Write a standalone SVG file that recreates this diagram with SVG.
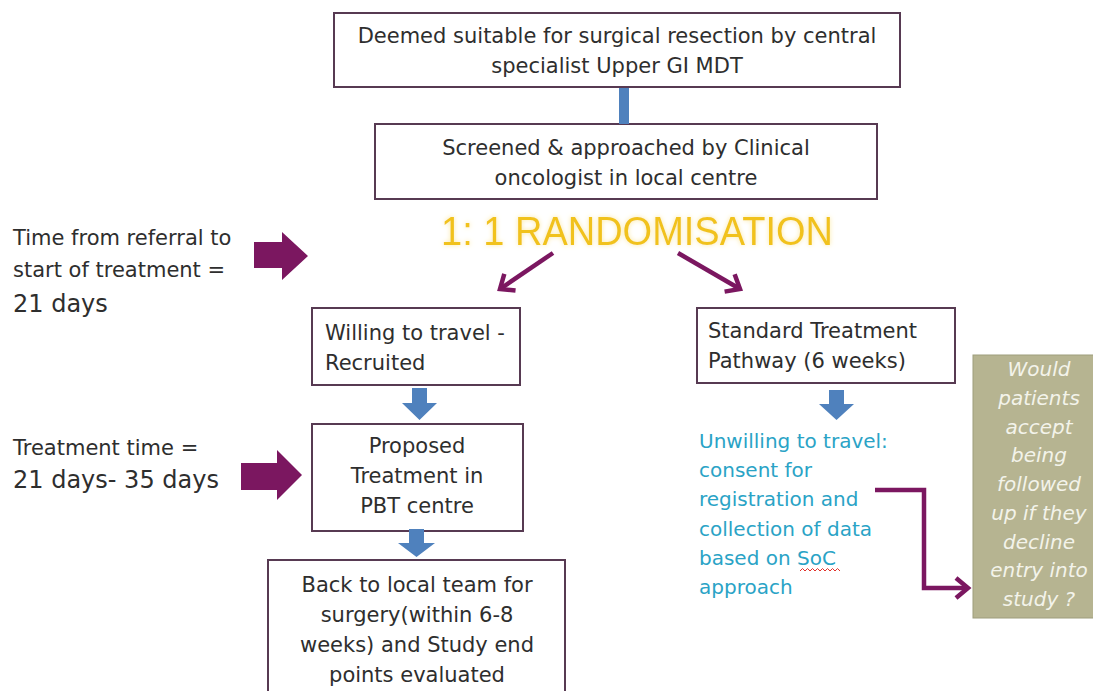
<svg xmlns="http://www.w3.org/2000/svg" width="1093" height="691" viewBox="0 0 1093 691">
  <style>
    .box { fill: #ffffff; stroke: #573a52; stroke-width: 2; }
    .t { font-family: "DejaVu Sans", "Liberation Sans", sans-serif; font-size: 21px; fill: #2e2e2e; }
    .big { font-size: 24px; }
    .mid { text-anchor: middle; }
    .cyan { font-family: "DejaVu Sans", "Liberation Sans", sans-serif; font-size: 20px; fill: #2aa3c6; }
    .tan { fill: #b6b491; stroke: #9e9d7c; stroke-width: 1; }
    .tantext { font-family: "DejaVu Sans", "Liberation Sans", sans-serif; font-size: 20px; font-style: italic; fill: #f3f3ea; text-anchor: middle; }
    .rand { font-family: "Liberation Sans", "DejaVu Sans", sans-serif; font-size: 40px; fill: #f1c21b; }
    .blue { fill: #4f81bd; }
    .purp { fill: #7b1760; }
    .pline { fill: none; stroke: #7b1760; stroke-width: 4.5; stroke-linejoin: miter; }
  </style>
  <defs>
    <filter id="glow" x="-10%" y="-30%" width="120%" height="160%">
      <feGaussianBlur in="SourceAlpha" stdDeviation="2.5" result="b"/>
      <feFlood flood-color="#fbe9a0" result="c"/>
      <feComposite in="c" in2="b" operator="in" result="g"/>
      <feMerge><feMergeNode in="g"/><feMergeNode in="SourceGraphic"/></feMerge>
    </filter>
    <marker id="vhead" markerUnits="userSpaceOnUse" markerWidth="30" markerHeight="30" refX="16" refY="12" orient="auto">
      <path d="M4,2 L16,12 L4,22" fill="none" stroke="#7b1760" stroke-width="4.5"/>
    </marker>
  </defs>
  <rect width="1093" height="691" fill="#ffffff"/>

  <!-- side notes -->
  <g id="note-referral">
    <text class="t" x="13" y="245">Time from referral to</text>
    <text class="t" x="13" y="277">start of treatment =</text>
    <text class="t big" x="13" y="312">21 days</text>
  </g>
  <g id="note-treatment">
    <text class="t" x="13" y="455">Treatment time =</text>
    <text class="t big" x="13" y="488">21 days- 35 days</text>
  </g>

  <!-- nodes -->
  <g id="node-mdt">
    <rect class="box" x="334" y="13" width="566" height="74"/>
    <text class="t mid" x="617" y="43">Deemed suitable for surgical resection by central</text>
    <text class="t mid" x="617" y="73">specialist Upper GI MDT</text>
  </g>
  <g id="node-screened">
    <rect class="box" x="375" y="124" width="502" height="75"/>
    <text class="t mid" x="626" y="155">Screened &amp; approached by Clinical</text>
    <text class="t mid" x="626" y="185">oncologist in local centre</text>
  </g>
  <g id="node-randomisation">
    <text class="rand" x="441" y="245" textLength="392" lengthAdjust="spacingAndGlyphs" filter="url(#glow)">1: 1 RANDOMISATION</text>
  </g>
  <g id="node-willing">
    <rect class="box" x="312" y="308" width="208" height="77"/>
    <text class="t" x="325" y="340">Willing to travel -</text>
    <text class="t" x="325" y="370">Recruited</text>
  </g>
  <g id="node-standard">
    <rect class="box" x="697" y="308" width="258" height="75"/>
    <text class="t" x="708" y="338">Standard Treatment</text>
    <text class="t" x="708" y="368">Pathway (6 weeks)</text>
  </g>
  <g id="node-proposed">
    <rect class="box" x="312" y="424" width="211" height="107"/>
    <text class="t mid" x="417" y="453">Proposed</text>
    <text class="t mid" x="417" y="483">Treatment in</text>
    <text class="t mid" x="417" y="513">PBT centre</text>
  </g>
  <g id="node-back">
    <rect class="box" x="268" y="560" width="297" height="145"/>
    <text class="t mid" x="417" y="592">Back to local team for</text>
    <text class="t mid" x="417" y="622">surgery(within 6-8</text>
    <text class="t mid" x="417" y="652">weeks) and Study end</text>
    <text class="t mid" x="417" y="682">points evaluated</text>
  </g>
  <g id="node-unwilling">
    <text class="cyan" x="699" y="448">Unwilling to travel:</text>
    <text class="cyan" x="699" y="477">consent for</text>
    <text class="cyan" x="699" y="506">registration and</text>
    <text class="cyan" x="699" y="536">collection of data</text>
    <text class="cyan" x="699" y="565">based on SoC</text>
    <text class="cyan" x="699" y="594">approach</text>
    <path d="M800,571 l2.5,-2.5 l2.5,2.5 l2.5,-2.5 l2.5,2.5 l2.5,-2.5 l2.5,2.5 l2.5,-2.5 l2.5,2.5 l2.5,-2.5 l2.5,2.5 l2.5,-2.5 l2.5,2.5 l2.5,-2.5 l2.5,2.5 l2.5,-2.5 l2.5,2.5" fill="none" stroke="#e0302a" stroke-width="1"/>
  </g>
  <g id="node-question">
    <rect class="tan" x="973" y="355" width="130" height="263"/>
    <text class="tantext" x="1039" y="376">Would</text>
    <text class="tantext" x="1039" y="405">patients</text>
    <text class="tantext" x="1039" y="434">accept</text>
    <text class="tantext" x="1039" y="462">being</text>
    <text class="tantext" x="1039" y="491">followed</text>
    <text class="tantext" x="1039" y="520">up if they</text>
    <text class="tantext" x="1039" y="549">decline</text>
    <text class="tantext" x="1039" y="577">entry into</text>
    <text class="tantext" x="1039" y="606">study ?</text>
  </g>

  <!-- connectors -->
  <g id="connectors">
    <rect class="blue" x="619" y="88" width="10" height="36"/>
    <path class="purp" d="M254,242 H282 V232 L308,256 L282,280 V268 H254 Z"/>
    <path class="purp" d="M241,463 H277 V450 L302,475 L277,500 V490 H241 Z"/>
    <line class="pline" x1="553" y1="253" x2="500" y2="289" marker-end="url(#vhead)"/>
    <line class="pline" x1="678" y1="253" x2="740" y2="289" marker-end="url(#vhead)"/>
    <path class="blue" d="M412,388 H427 V403 H437 L419.5,420 L402,403 H412 Z"/>
    <path class="blue" d="M409,529 H424 V543 H435 L416.5,557 L398,543 H409 Z"/>
    <path class="blue" d="M829,390 H844 V404 H854 L836.5,420 L819,404 H829 Z"/>
    <path class="pline" d="M875,490 H924 V588 H968" marker-end="url(#vhead)"/>
  </g>
</svg>
